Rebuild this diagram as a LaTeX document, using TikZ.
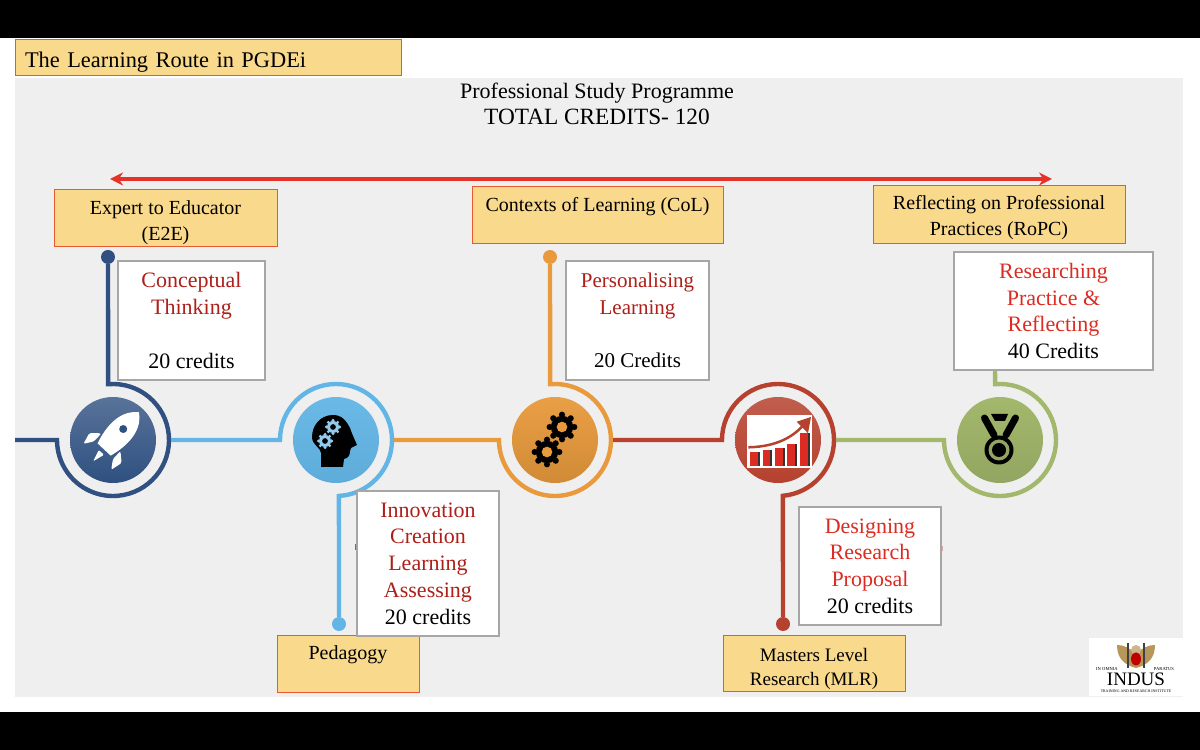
\documentclass[tikz,border=0pt]{standalone}
\usepackage{fontspec}
\usepackage{xcolor}
\usetikzlibrary{calc,arrows.meta}
\setmainfont{Liberation Serif}

\definecolor{panelgrey}{HTML}{F0EFF0}
\definecolor{boxfill}{HTML}{F9D98C}
\definecolor{boxedge}{HTML}{EA5A2E}
\definecolor{routeblue}{HTML}{2F5080}
\definecolor{routesky}{HTML}{63B5E5}
\definecolor{routeorange}{HTML}{E89A3C}
\definecolor{routered}{HTML}{B5412E}
\definecolor{routegreen}{HTML}{A3B86C}
\definecolor{darkred}{HTML}{AE1F1A}
\definecolor{brightred}{HTML}{DB2B22}
\definecolor{arrowred}{HTML}{E5332A}
\definecolor{logogold}{HTML}{B8965A}

\tikzset{
  labelbox/.style={draw=boxedge, fill=boxfill, line width=1pt, inner sep=0pt, align=center,
    text depth=0pt, font=\fontsize{20}{26}\selectfont},
  whitebox/.style={draw=black!35, fill=white, line width=1.4pt, inner sep=0pt, align=center,
    font=\fontsize{22}{26.7}\selectfont},
  icon/.style={circle, minimum size=86pt, inner sep=0pt, shading angle=0},
  route/.style={line width=4.4pt, line join=miter},
  routedot/.style={circle, minimum size=14pt, inner sep=0pt},
  logotext/.style={inner sep=0pt}
}

\newcommand{\cogwheel}[5]{%
  \fill[#4] (#1,#2) circle (#3*0.8);
  \foreach \a in {0,45,...,315}
    \fill[#4] (#1,#2) ++(\a:#3*0.88) circle (#3*0.22);
  \fill[#5] (#1,#2) circle (#3*0.38);
}

\begin{document}
\begin{tikzpicture}[x=1pt, y=1pt]
\useasboundingbox (0,0) rectangle (1200,750);
\fill[white] (0,0) rectangle (1200,750);
\fill[black] (0,0) rectangle (1200,38);
\fill[black] (0,712) rectangle (1200,750);
\fill[panelgrey] (15,53) rectangle (1183,672);

% title
\node[labelbox, minimum width=386pt, minimum height=36pt, text width=366pt, align=left,
  text height=25pt, text depth=5pt, font=\fontsize{22.4}{26}\selectfont] (routetitle) at (208,692)
  {The Learning Route in PGDEi};
\node[align=center, font=\fontsize{22}{26}\selectfont] (programme) at (597,646)
  {Professional Study Programme\\{\fontsize{23.3}{26}\selectfont TOTAL CREDITS- 120}};

\coordinate (arrowleft) at (110,571);
\coordinate (arrowright) at (1052,571);
\draw[{Stealth[length=13pt,width=13pt]}-{Stealth[length=13pt,width=13pt]}, draw=arrowred, line width=4pt]
  (arrowleft) -- (arrowright);

% icons on the route
\node[icon, top color=routeblue!80!white, bottom color=routeblue] (iconA) at (113,310) {};
\node[icon, top color=routesky!95!white, bottom color=routesky!95!black] (iconB) at (336,310) {};
\node[icon, top color=routeorange!95!white, bottom color=routeorange!90!black] (iconC) at (555,310) {};
\node[icon, top color=routered!85!white, bottom color=routered] (iconD) at (778,310) {};
\node[icon, top color=routegreen, bottom color=routegreen!90!black] (iconE) at (1000,310) {};

\node[routedot, fill=routeblue] (dotA) at (108,493) {};
\node[routedot, fill=routesky] (dotB) at (339,126) {};
\node[routedot, fill=routeorange] (dotC) at (550,493) {};
\node[routedot, fill=routered] (dotD) at (783,126) {};
\coordinate (entry) at (15,310);
\coordinate (stemE) at (995,382);

% route
\draw[route, routeblue] (dotA) -- ($(iconA)+(95:56)$) arc[start angle=95, end angle=-180, radius=56] -- (entry);
\draw[route, routesky] ($(iconA)+(0:58)$) -- ($(iconB)+(180:56)$) arc[start angle=180, end angle=-87, radius=56] -- (dotB);
\draw[route, routeorange] (dotC) -- ($(iconC)+(95:56)$) arc[start angle=95, end angle=-180, radius=56] -- ($(iconB)+(0:58)$);
\draw[route, routered] ($(iconC)+(0:58)$) -- ($(iconD)+(180:56)$) arc[start angle=180, end angle=-85, radius=56] -- (dotD);
\draw[route, routegreen] (stemE) -- ($(iconE)+(95:56)$) arc[start angle=95, end angle=-180, radius=56] -- ($(iconD)+(0:58)$);

% rocket
\begin{scope}[shift={(iconA)}, rotate=-43]
\fill[white] (0,38) .. controls (11,30) and (17,14) .. (9,-13) -- (-9,-13) .. controls (-17,14) and (-11,30) .. (0,38) -- cycle;
\fill[routeblue] (0,15) circle (4);
\fill[white, rounded corners=1.5pt] (-13,-3) -- (-22,-11) -- (-19,-23) -- (-13,-14) -- cycle;
\fill[white, rounded corners=1.5pt] (13,-3) -- (22,-11) -- (19,-23) -- (13,-14) -- cycle;
\fill[white, rounded corners=1pt] (-3.5,-17) -- (3.5,-17) -- (0,-29) -- cycle;
\end{scope}

% head with gears
\begin{scope}[shift={(iconB)}]
\fill[black] (-15,-27) -- (7,-27) -- (8,-19) .. controls (12,-18) and (14,-16) .. (14,-11) -- (15,-8)
  -- (21,-5) .. controls (18,2) and (16,6) .. (14,12) .. controls (8,24) and (2,25) .. (-3,25)
  .. controls (-16,25) and (-24,14) .. (-24,3) .. controls (-24,-5) and (-15,-8) .. (-15,-13) -- cycle;
\cogwheel{-3}{13}{7.5}{routesky!70!white}{black}
\cogwheel{-11}{-1}{7.5}{routesky!70!white}{black}
\end{scope}

% gears
\begin{scope}[shift={(iconC)}]
\cogwheel{7}{13}{14}{black}{routeorange}
\cogwheel{-8}{-12}{14}{black}{routeorange}
\end{scope}

% chart
\begin{scope}[shift={(iconD)}]
\fill[white] (-31,-28) rectangle (34,25);
\foreach \xa/\xb/\ytop in {-28/-20/-12, -15/-8/-10, -3/5/-8, 9/17/-4, 22/30/7} {
  \fill[brightred] (\xa,-26) rectangle (\xb,\ytop);
  \fill[black!80] (\xb,-26) rectangle (\xb+1.5,\ytop);
}
\draw[routered, line width=2.5pt] (-29.7,-7.3) .. controls (3,-6.7) and (18.7,6.7) .. (27,16.7);
\fill[routered] (18.7,18.3) -- (33,23) -- (30,6.7) -- cycle;
\end{scope}

% medal
\begin{scope}[shift={(iconE)}]
\draw[black, line width=7pt, line cap=round] (-15.5,22) -- (-6,5);
\draw[black, line width=7pt, line cap=round] (15.5,22) -- (6,5);
\fill[black] (-9,26) -- (8,26) -- (5,19) -- (-5,19) -- cycle;
\fill[black] (-1,-10) circle (14.5);
\fill[routegreen!90!black] (-1,-10) circle (10.5);
\fill[black] (-1,-10) circle (7);
\end{scope}

% small marks beside the white boxes
\fill[routesky!70!black] (355,200) rectangle (357.5,206);
\fill[routered!40!panelgrey] (941,199) rectangle (943,204);

% orange boxes
\node[labelbox, minimum width=223pt, minimum height=57pt, text height=44pt] (boxEE) at (165.5,531.5) {Expert to Educator\\(E2E)};
\node[labelbox, minimum width=251pt, minimum height=57pt, text height=44pt] (boxCoL) at (597.5,534.5) {Contexts of Learning (CoL)\\~};
\node[labelbox, minimum width=252pt, minimum height=58pt, text height=42pt] (boxRoPC) at (999,535) {Reflecting on Professional\\Practices (RoPC)};
\node[labelbox, minimum width=142pt, minimum height=57pt, text height=42pt] (boxPed) at (348,85.5) {Pedagogy\\~};
\node[labelbox, minimum width=182pt, minimum height=56pt, text height=44pt, font=\fontsize{19}{24.5}\selectfont] (boxMLR) at (814,86) {Masters Level\\Research (MLR)};

% white boxes
\node[whitebox, minimum width=147pt, minimum height=119pt] (concept) at (191.5,429.5)
  {\textcolor{darkred}{Conceptual}\\\textcolor{darkred}{Thinking}\\~\\20 credits};
\node[whitebox, minimum width=143pt, minimum height=119pt, font=\fontsize{21}{26.7}\selectfont] (personal) at (637.5,429.5)
  {\textcolor{darkred}{Personalising}\\\textcolor{darkred}{Learning}\\~\\20 Credits};
\node[whitebox, minimum width=199pt, minimum height=118pt] (research) at (1053.5,439)
  {\textcolor{brightred}{Researching}\\\textcolor{brightred}{Practice \&}\\\textcolor{brightred}{Reflecting}\\40 Credits};
\node[whitebox, minimum width=142pt, minimum height=145pt] (innovation) at (428,186.5)
  {\textcolor{darkred}{Innovation}\\\textcolor{darkred}{Creation}\\\textcolor{darkred}{Learning}\\\textcolor{darkred}{Assessing}\\20 credits};
\node[whitebox, minimum width=142pt, minimum height=118pt] (designing) at (870,184)
  {\textcolor{brightred}{Designing}\\\textcolor{brightred}{Research}\\\textcolor{brightred}{Proposal}\\20 credits};

% logo
\node[fill=white, minimum width=94pt, minimum height=58pt, inner sep=0pt] (logo) at (1136,83) {};
\fill[logogold] (1136,82) .. controls (1124,85) and (1117,92) .. (1117,105) .. controls (1124,105) and (1130,102) .. (1136,96) .. controls (1142,102) and (1148,105) .. (1155,105) .. controls (1155,92) and (1148,85) .. (1136,82) -- cycle;
\fill[logogold!70!white] (1136,100) circle (5);
\fill[black!75] (1127,82) rectangle (1129,107);
\fill[black!75] (1143,82) rectangle (1145,107);
\fill[red!75!black] (1136,91) ellipse (5 and 6.5);
\node[logotext, font=\fontsize{19}{20}\selectfont] (indus) at (1136,71) {INDUS};
\node[logotext, font=\fontsize{4.6}{5}\selectfont] (omnia) at (1107,81) {IN OMNIA};
\node[logotext, font=\fontsize{4.6}{5}\selectfont] (paratus) at (1164,81) {PARATUS};
\node[logotext, font=\fontsize{3.9}{4}\selectfont] (institute) at (1136,59) {TRAINING AND RESEARCH INSTITUTE};
\end{tikzpicture}
\end{document}
